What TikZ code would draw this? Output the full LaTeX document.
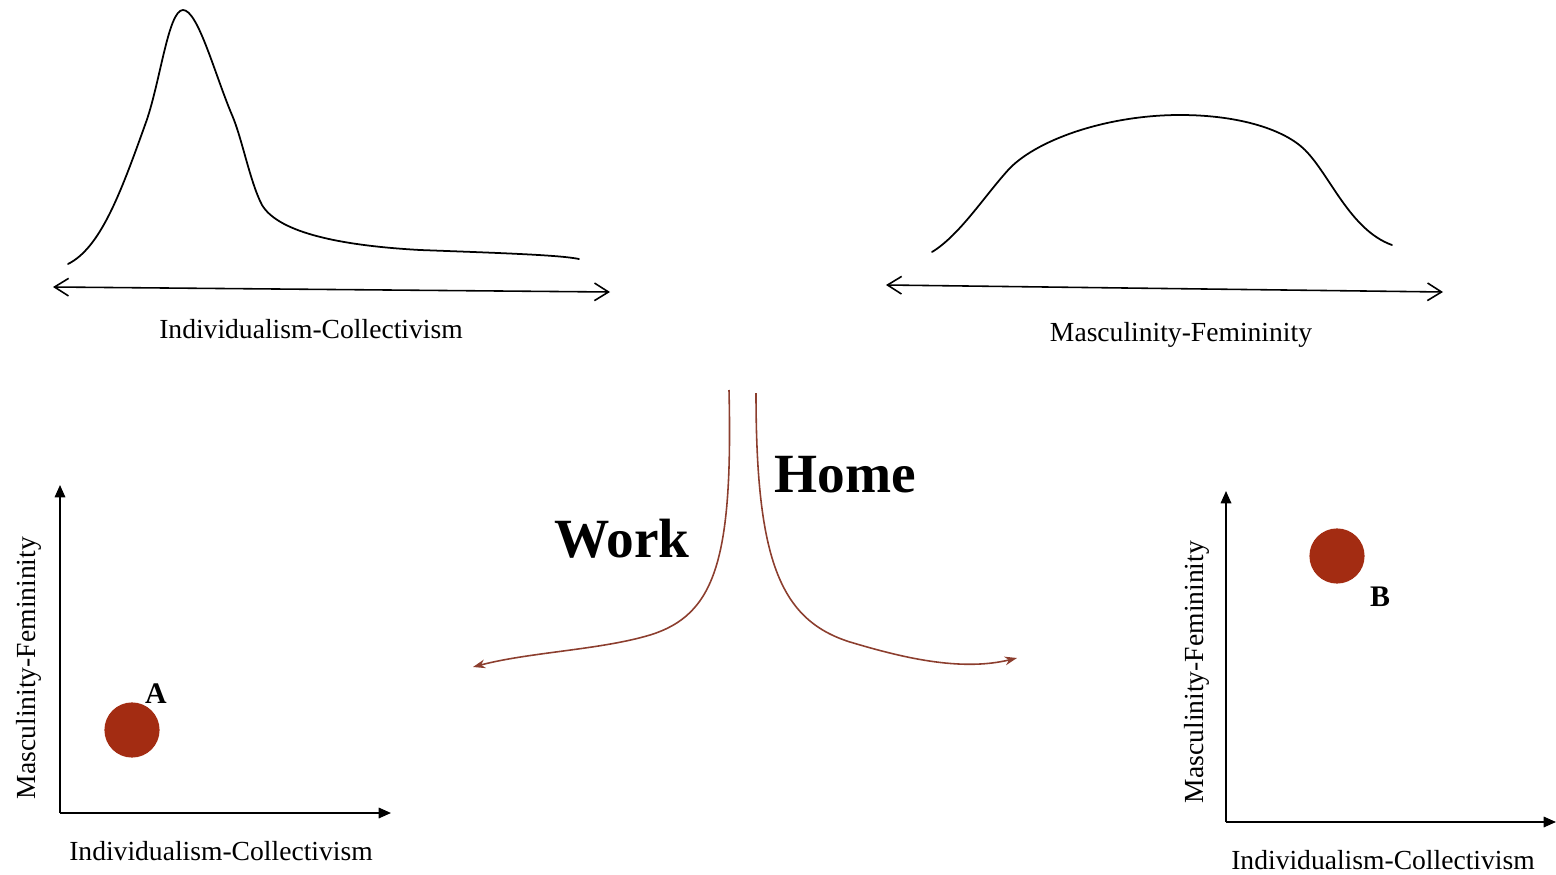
\documentclass[tikz,border=0pt]{standalone}
\usepackage{fontspec}
\setmainfont{Liberation Serif}
\usetikzlibrary{arrows.meta, positioning}
\definecolor{trail}{RGB}{140,62,46}
\definecolor{spot}{RGB}{163,44,18}

\tikzset{
  dist/.style={line width=1pt, line join=round, line cap=round},
  scaleaxis/.style={line width=0.9pt, {Straight Barb[length=8pt,width=10pt]}-{Straight Barb[length=8pt,width=10pt]}},
  planeaxis/.style={line width=0.9pt, -{Triangle[length=7pt,width=6pt]}},
  path/.style={trail, line width=0.9pt, -{Stealth[length=7pt,width=5pt]}},
  dim/.style={font=\fontsize{15.7}{18}\selectfont, inner sep=0pt, anchor=base},
  side/.style={font=\bfseries\fontsize{31.5}{36}\selectfont, inner sep=0pt, anchor=base},
  case/.style={circle, fill=spot, minimum size=31.4pt, inner sep=0pt},
  tag/.style={font=\bfseries\fontsize{17}{20}\selectfont, inner sep=0pt, anchor=base}
}

\begin{document}
\begin{tikzpicture}[x=0.02cm, y=-0.02cm]
  \useasboundingbox (0,0) rectangle (1556,875);

  % distribution over individualism
  \draw[dist] (68,264) .. controls (100,248) and (120,195) .. (145,125)
    .. controls (160,85) and (168,10) .. (183,10)
    .. controls (198,10) and (215,75) .. (232,115)
    .. controls (242,138) and (250,182) .. (262,205)
    .. controls (277,230) and (330,245) .. (420,250)
    .. controls (500,253) and (560,255) .. (579,259);
  \coordinate (ic-l) at (53,287);
  \coordinate (ic-r) at (610,292);
  \draw[scaleaxis] (ic-l) -- (ic-r);
  \node[dim] (ic) at (311,338) {Individualism-Collectivism};

  % distribution over masculinity
  \draw[dist] (932,252) .. controls (960,235) and (985,195) .. (1010,168)
    .. controls (1040,138) and (1110,115) .. (1180,115)
    .. controls (1240,115) and (1285,130) .. (1305,150)
    .. controls (1330,175) and (1350,230) .. (1392,245);
  \coordinate (mf-l) at (886,285);
  \coordinate (mf-r) at (1443,292);
  \draw[scaleaxis] (mf-l) -- (mf-r);
  \node[dim] (mf) at (1181,341) {Masculinity-Femininity};

  % the two settings
  \coordinate (w-top) at (729,390);
  \coordinate (w-end) at (473,667);
  \coordinate (h-top) at (756,393);
  \coordinate (h-end) at (1017,658);
  \draw[path] (w-top) .. controls (733,560) and (715,615) .. (650,635)
    .. controls (600,650) and (530,652) .. (w-end);
  \draw[path] (h-top) .. controls (756,560) and (780,620) .. (850,642)
    .. controls (900,657) and (960,672) .. (h-end);
  \node[side] (work) at (622,557) {Work};
  \node[side] (home) at (845,492) {Home};

  % plane for A
  \coordinate (a-o) at (60,813);
  \coordinate (a-y) at (60,485);
  \coordinate (a-x) at (391,813);
  \draw[planeaxis] (a-o) -- (a-y);
  \draw[planeaxis] (a-o) -- (a-x);
  \node[case] (a) at (132,730) {};
  \node[tag] (a-lab) at (156,703) {A};
  \node[dim] (a-xl) at (221,860) {Individualism-Collectivism};
  \node[dim, rotate=90] (a-yl) at (35,668) {Masculinity-Femininity};

  % plane for B
  \coordinate (b-o) at (1226,822);
  \coordinate (b-y) at (1226,491);
  \coordinate (b-x) at (1556,822);
  \draw[planeaxis] (b-o) -- (b-y);
  \draw[planeaxis] (b-o) -- (b-x);
  \node[case] (b) at (1337,556) {};
  \node[tag] (b-lab) at (1380,606) {B};
  \node[dim] (b-xl) at (1383,869) {Individualism-Collectivism};
  \node[dim, rotate=90] (b-yl) at (1203,672) {Masculinity-Femininity};
\end{tikzpicture}
\end{document}
